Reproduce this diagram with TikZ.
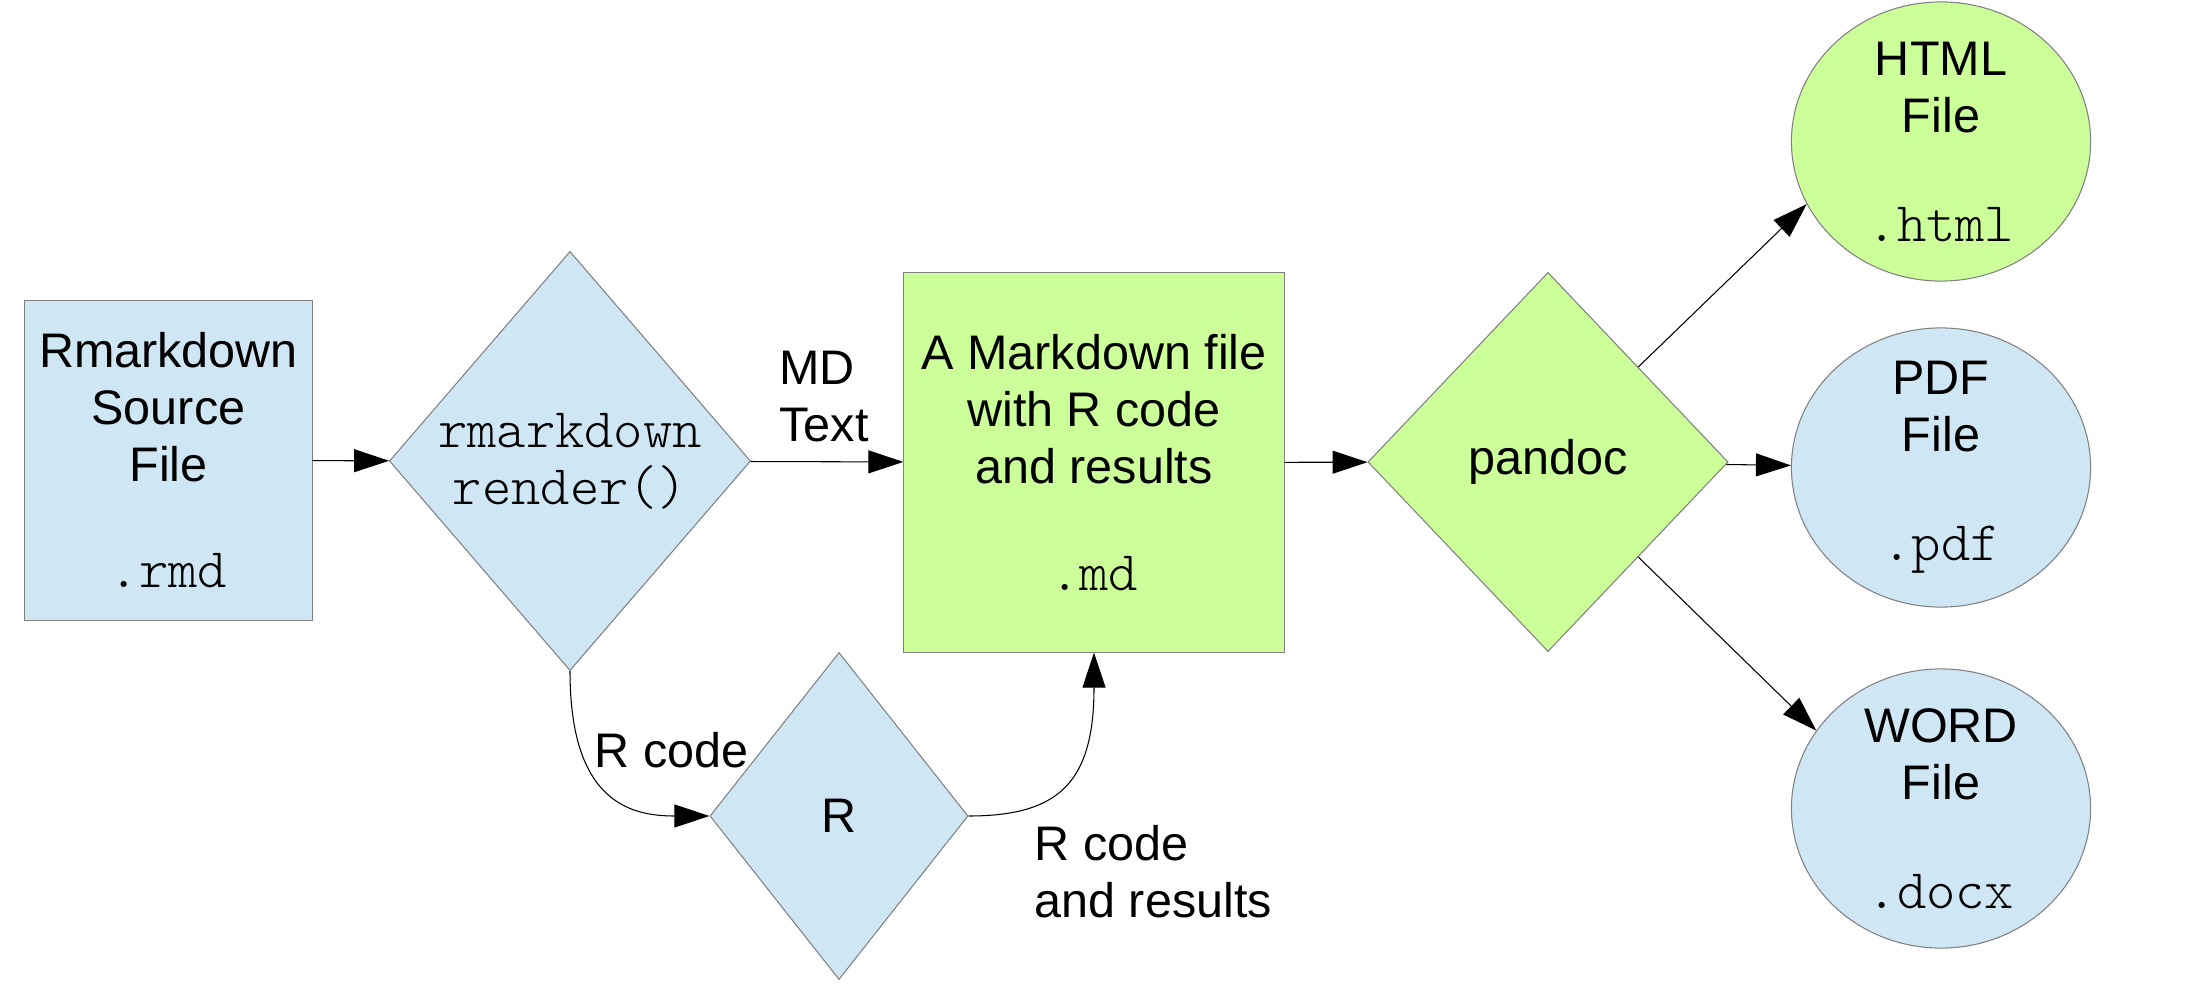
\documentclass[tikz,border=0pt]{standalone}
\usepackage{fontspec}
\setmainfont{Liberation Sans}
\setmonofont{Latin Modern Mono Light}[Scale=1.15]
\usetikzlibrary{shapes.geometric,arrows.meta}
\definecolor{paleblue}{RGB}{207,231,245}
\definecolor{palegreen}{RGB}{204,255,153}
\definecolor{edgegray}{RGB}{128,128,128}

\begin{document}
\begin{tikzpicture}[x=0.01cm, y=-0.01cm, line width=0.3pt,
  font=\fontsize{13.8}{16.2}\selectfont,
  >={Triangle[length=0.35cm,width=0.23cm]},
  box/.style={draw=edgegray, rectangle, inner sep=0pt, align=center},
  choice/.style={draw=edgegray, diamond, inner sep=0pt, align=center},
  output/.style={draw=edgegray, ellipse, inner xsep=0pt, inner ysep=-0.1cm, align=center, minimum width=2.99cm, minimum height=2.79cm},
  tag/.style={inner sep=0pt, align=left, anchor=west}]
\useasboundingbox (0,0) rectangle (2206,985);
\node[box, fill=paleblue, minimum width=2.87cm, minimum height=3.19cm] (source) at (168.5,460.5)
  {Rmarkdown\\Source\\File\\[0.49cm]\texttt{.rmd}};
\node[choice, fill=paleblue, minimum width=3.61cm, minimum height=4.19cm] (render) at (570,461)
  {\texttt{rmarkdown}\\\texttt{render()}};
\node[choice, fill=paleblue, minimum width=2.58cm, minimum height=3.27cm] (rrun) at (839,816) {R};
\node[box, fill=palegreen, minimum width=3.80cm, minimum height=3.79cm] (mdfile) at (1094,462.5)
  {A Markdown file\\with R code\\and results\\[0.5cm]\texttt{.md}};
\node[choice, fill=palegreen, minimum width=3.60cm, minimum height=3.79cm] (pandoc) at (1548,462) {pandoc};
\node[output, fill=palegreen] (html) at (1941,141.5) {HTML\\File\\[0.52cm]\texttt{.html}};
\node[output, fill=paleblue] (pdf) at (1941,467.5) {PDF\\File\\[0.52cm]\texttt{.pdf}};
\node[output, fill=paleblue] (word) at (1941,808.5) {WORD\\File\\[0.52cm]\texttt{.docx}};

\node[tag] (mdtext) at (779,397) {MD\\Text};
\node[tag] (rcode) at (594,750) {R code};
\node[tag] (rresults) at (1034,872) {R code\\and results};

\draw[->] (source) -- (render);
\draw[->] (render) -- (mdfile);
\draw[->] (mdfile) -- (pandoc);
\draw[->] (pandoc.north east) -- (html.205);
\draw[->] (pandoc) -- (pdf);
\draw[->] (pandoc.south east) -- (word.148);
\draw[->] (render.south) .. controls +(0,130) and +(-80,0) .. (rrun.west);
\draw[->] (rrun.east) .. controls +(90,0) and +(0,130) .. (mdfile.south);
\end{tikzpicture}
\end{document}
